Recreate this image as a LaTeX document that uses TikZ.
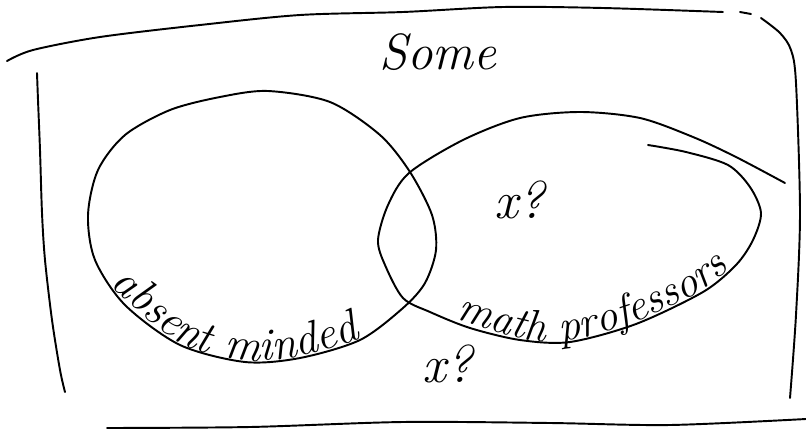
\documentclass[tikz,border=0pt]{standalone}
\usetikzlibrary{decorations.text}
\begin{document}
\begin{tikzpicture}[x=0.02cm,y=-0.02cm,line join=round,line cap=round,line width=1.1pt,font=\fontsize{29}{33}\selectfont\itshape,scale=1]
				\useasboundingbox (0,0) rectangle (806,430);
				% khung
				\draw plot[smooth] coordinates {(7,61) (33,50) (100,37) (200,25) (300,15) (403,12) (503,7) (603,8) (723,12)};
				\draw (740,12)--(751,14);
				\draw plot[smooth] coordinates {(761,18) (780,33) (791,50) (796,83) (800,213) (796,315) (790,398)};
				\draw plot[smooth] coordinates {(37,73) (38,100) (40,150) (42,213) (45,260) (52,320) (60,370) (65,392)};
				\draw plot[smooth] coordinates {(107,428) (250,427) (403,422) (550,423) (670,425) (806,419)};
				% hai tap hop
				\draw plot[smooth cycle] coordinates {(268,91) (330,102) (380,135) (410,172) (432,215) (436,250) (425,283) (403,308) (360,340) (300,358) (245,362) (180,345) (125,305) (95,260) (88,215) (98,170) (125,135) (170,110) (220,97)};
				\draw plot[smooth] coordinates {(785,183) (736,157) (693,137) (640,118) (580,112) (520,118) (463,140) (409,173) (388,205) (378,240) (385,265) (403,298) (430,312) (470,328) (520,340) (570,342) (636,324) (703,292) (736,265) (753,240) (761,213) (750,187) (728,165) (686,152) (648,145)};
				% chu theo duong cong
				\path[decorate,decoration={text along path,raise=1pt,text={|\fontsize{26}{30}\selectfont\itshape|absent minded}}] plot[smooth] coordinates {(108,287) (180,345) (245,362) (300,358) (360,340) (403,308) (425,283) (436,250)};
				\path[decorate,decoration={text along path,raise=1pt,text={|\fontsize{25}{29}\selectfont\itshape|math professors}}] plot[smooth] coordinates {(455,320) (520,340) (570,342) (636,324) (703,292) (736,265) (753,240) (761,213)};
				\node (S) at (438,52) {Some};
				\foreach \n/\a/\b in {X/520/200,Y/448/364}{\node[font=\fontsize{30}{34}\selectfont\itshape] (\n) at (\a,\b) {x?};}
		\end{tikzpicture}
\end{document}
